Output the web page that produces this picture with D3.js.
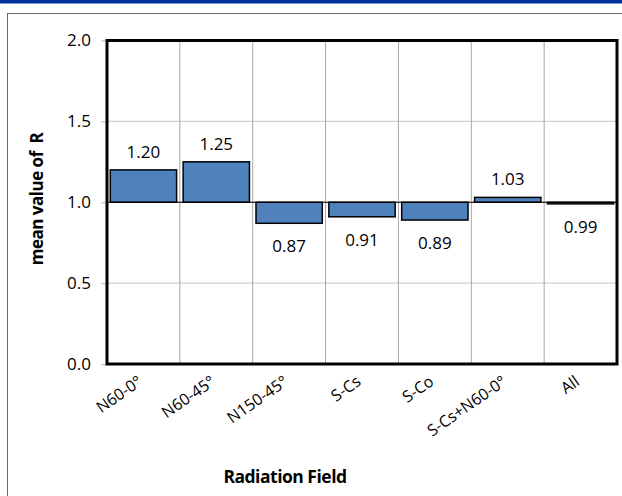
<!DOCTYPE html>
<html><head><meta charset="utf-8">
<script src="https://cdn.jsdelivr.net/npm/d3@7"></script>
<style>body{margin:0;background:#fff;} svg{display:block;font-family:"Open Sans",sans-serif;}</style>
</head><body>
<script>
const categories = ["N60-0°","N60-45°","N150-45°","S-Cs","S-Co","S-Cs+N60-0°","All"];
const values = [1.20,1.25,0.87,0.91,0.89,1.03,0.99];
const valueLabels = ["1.20","1.25","0.87","0.91","0.89","1.03","0.99"];
const yTicks = [0,0.5,1.0,1.5,2.0];
const baseline = 1.0;

const W=622,H=496;
const svg=d3.select("body").append("svg").attr("width",W).attr("height",H);
svg.append("rect").attr("x",0).attr("y",0).attr("width",W).attr("height",3.5).attr("fill","#003399");
svg.append("rect").attr("x",7.5).attr("y",13.5).attr("width",W+10).attr("height",H).attr("fill","none").attr("stroke","#666").attr("stroke-width",1);

const L=107,R=617,T=40.5,B=364;
const x=d3.scaleBand().domain(categories).range([L,R]).paddingInner(0.09).paddingOuter(0.045);
const xg=d3.scaleBand().domain(categories).range([L,R]);
const y=d3.scaleLinear().domain([0,2]).range([B,T]);

// gridlines
const g=svg.append("g");
g.selectAll(".hg").data(yTicks.filter(v=>v>0&&v<2)).enter().append("line")
 .attr("x1",L).attr("x2",R).attr("y1",d=>y(d)).attr("y2",d=>y(d)).attr("stroke","#d0d0d0").attr("stroke-width",1.3);
g.selectAll(".vg").data(categories.slice(1)).enter().append("line")
 .attr("x1",d=>xg(d)).attr("x2",d=>xg(d)).attr("y1",T).attr("y2",B).attr("stroke","#a6a6a6").attr("stroke-width",1);

// y axis
const ya=svg.append("g").attr("transform",`translate(${L},0)`).call(d3.axisLeft(y).tickValues(yTicks).tickFormat(d3.format(".1f")).tickSize(6).tickPadding(10));
ya.select(".domain").remove();
ya.selectAll("line").attr("stroke","#c8c8c8").attr("stroke-width",1.3);
ya.selectAll("text").attr("font-size",17).attr("fill","#000").attr("font-family","'Open Sans',sans-serif");

// bars
svg.selectAll(".bar").data(values).enter().append("rect")
 .attr("x",(d,i)=>x(categories[i])).attr("width",x.bandwidth())
 .attr("y",d=>y(Math.max(d,baseline))).attr("height",d=>Math.abs(y(d)-y(baseline)))
 .attr("fill","#4f81bd").attr("stroke","#000").attr("stroke-width",1.5);

// baseline
svg.append("line").attr("x1",L).attr("x2",R).attr("y1",y(baseline)).attr("y2",y(baseline)).attr("stroke","#000").attr("stroke-width",1.2);

// value labels
svg.selectAll(".vl").data(values).enter().append("text")
 .attr("x",(d,i)=>xg(categories[i])+xg.bandwidth()/2)
 .attr("y",d=>d>=baseline? y(d)-12 : y(d)+29)
 .attr("text-anchor","middle").attr("font-size",17).attr("fill","#000")
 .text((d,i)=>valueLabels[i]);

// frame
svg.append("rect").attr("x",L).attr("y",T).attr("width",R-L).attr("height",B-T).attr("fill","none").attr("stroke","#000").attr("stroke-width",3);

// x labels
svg.selectAll(".xl").data(categories).enter().append("text")
 .attr("transform",d=>`translate(${xg(d)+xg.bandwidth()/2},${B+20}) rotate(-35)`)
 .attr("text-anchor","end").attr("font-size",16).attr("fill","#000").text(d=>d);

// titles
svg.append("text").attr("x",285).attr("y",483).attr("text-anchor","middle").attr("font-size",17.5).attr("font-weight","bold").attr("letter-spacing","-0.5").text("Radiation Field");
svg.append("text").attr("transform","translate(43,199) rotate(-90)").attr("text-anchor","middle").attr("font-size",17).attr("font-weight","bold").attr("letter-spacing","-0.5").attr("xml:space","preserve").text("mean value of  R");
</script>
</body></html>
